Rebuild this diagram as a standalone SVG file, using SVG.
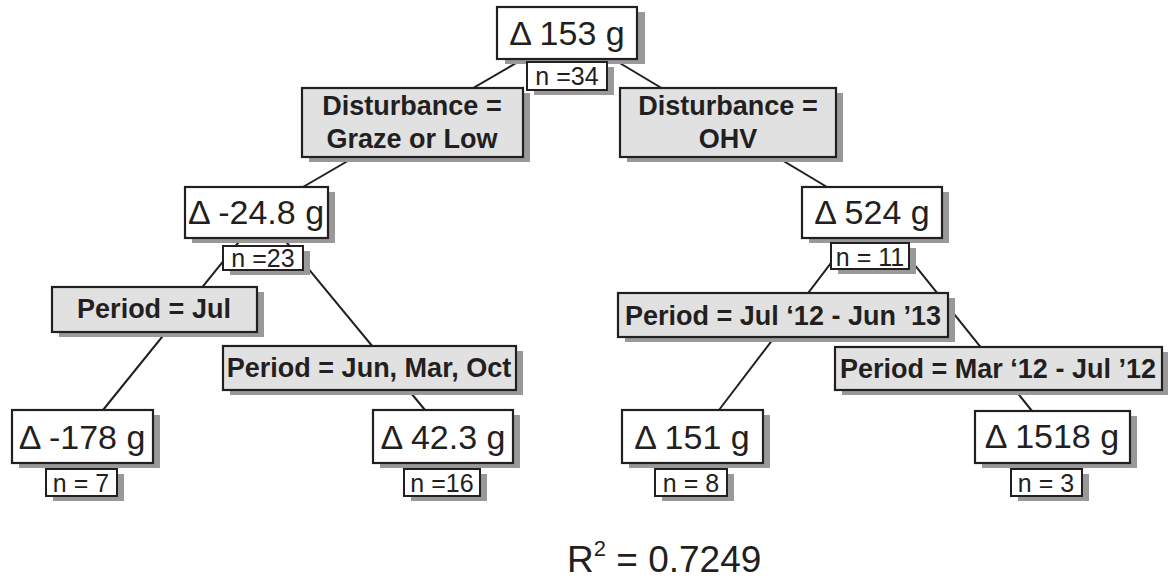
<svg xmlns="http://www.w3.org/2000/svg" width="1168" height="581" viewBox="0 0 1168 581">
<style>
.shadow{fill:#999999;stroke:none}
.node{fill:#ffffff;stroke:#231f20;stroke-width:2.2}
.split{fill:#e1e1e1;stroke:#231f20;stroke-width:2.2}
.nbox{fill:#ffffff;stroke:#231f20;stroke-width:2}
.big{font-family:"Liberation Sans",Arial,sans-serif;font-size:34px;fill:#231f20;text-anchor:middle}
.n{font-family:"Liberation Sans",Arial,sans-serif;font-size:25px;fill:#231f20;text-anchor:middle}
.lab{font-family:"Liberation Sans",Arial,sans-serif;font-size:27px;font-weight:bold;fill:#231f20;text-anchor:middle}
.conn{stroke:#231f20;stroke-width:2;fill:none}
</style>
<rect width="1168" height="581" fill="#ffffff"/>
<g id="connectors">
<line class="conn" x1="523" y1="59" x2="303" y2="187"/>
<line class="conn" x1="613" y1="59" x2="827" y2="187"/>
<line class="conn" x1="242" y1="238" x2="103" y2="410"/>
<line class="conn" x1="283" y1="238" x2="425" y2="410"/>
<line class="conn" x1="850" y1="238" x2="719" y2="410"/>
<line class="conn" x1="893" y1="238" x2="1032" y2="411"/>
</g>
<g id="root">
<rect class="shadow" x="505" y="12" width="140" height="52"/>
<rect class="node" x="497" y="7" width="140" height="52"/>
<text class="big" x="567" y="45">Δ 153 g</text>
<rect class="shadow" x="534" y="67" width="80" height="28"/>
<rect class="nbox" x="527" y="62" width="80" height="28"/>
<text class="n" x="567" y="85">n =34</text>
</g>
<g id="split-left">
<rect class="shadow" x="309" y="93" width="221" height="69"/>
<rect class="split" x="302" y="88" width="221" height="69"/>
<text class="lab" x="412" y="115">Disturbance =</text>
<text class="lab" x="412" y="148">Graze or Low</text>
</g>
<g id="split-right">
<rect class="shadow" x="627" y="93" width="216" height="69"/>
<rect class="split" x="620" y="88" width="216" height="69"/>
<text class="lab" x="728" y="115">Disturbance =</text>
<text class="lab" x="728" y="148">OHV</text>
</g>
<g id="node-m248">
<rect class="shadow" x="192" y="192" width="143" height="51"/>
<rect class="node" x="185" y="187" width="143" height="51"/>
<text class="big" x="256" y="224">Δ -24.8 g</text>
<rect class="shadow" x="230" y="251" width="80" height="24"/>
<rect class="nbox" x="223" y="246" width="80" height="24"/>
<text class="n" x="263" y="267">n =23</text>
</g>
<g id="node-524">
<rect class="shadow" x="809" y="192" width="140" height="51"/>
<rect class="node" x="802" y="187" width="140" height="51"/>
<text class="big" x="872" y="224">Δ 524 g</text>
<rect class="shadow" x="838" y="248" width="78" height="26"/>
<rect class="nbox" x="831" y="243" width="78" height="26"/>
<text class="n" x="870" y="266">n = 11</text>
</g>
<g id="split-jul">
<rect class="shadow" x="59" y="292" width="205" height="45"/>
<rect class="split" x="52" y="287" width="205" height="45"/>
<text class="lab" x="154" y="318">Period = Jul</text>
</g>
<g id="split-junmaroct">
<rect class="shadow" x="230" y="351" width="293" height="44"/>
<rect class="split" x="223" y="346" width="293" height="44"/>
<text class="lab" x="369" y="377">Period = Jun, Mar, Oct</text>
</g>
<g id="split-jul12">
<rect class="shadow" x="625" y="298" width="330" height="44"/>
<rect class="split" x="618" y="293" width="330" height="44"/>
<text class="lab" x="783" y="325">Period = Jul ‘12 - Jun ’13</text>
</g>
<g id="split-mar12">
<rect class="shadow" x="842" y="352" width="327" height="43"/>
<rect class="split" x="835" y="347" width="327" height="43"/>
<text class="lab" x="998" y="378">Period = Mar ‘12 - Jul ’12</text>
</g>
<g id="node-m178">
<rect class="shadow" x="19" y="415" width="141" height="53"/>
<rect class="node" x="12" y="410" width="141" height="53"/>
<text class="big" x="82" y="449">Δ -178 g</text>
<rect class="shadow" x="53" y="474" width="71" height="27"/>
<rect class="nbox" x="46" y="469" width="71" height="27"/>
<text class="n" x="81" y="492">n = 7</text>
</g>
<g id="node-423">
<rect class="shadow" x="380" y="415" width="140" height="53"/>
<rect class="node" x="373" y="410" width="140" height="53"/>
<text class="big" x="443" y="449">Δ 42.3 g</text>
<rect class="shadow" x="411" y="474" width="76" height="27"/>
<rect class="nbox" x="404" y="469" width="76" height="27"/>
<text class="n" x="442" y="492">n =16</text>
</g>
<g id="node-151">
<rect class="shadow" x="629" y="415" width="141" height="53"/>
<rect class="node" x="622" y="410" width="141" height="53"/>
<text class="big" x="692" y="449">Δ 151 g</text>
<rect class="shadow" x="662" y="474" width="72" height="27"/>
<rect class="nbox" x="655" y="469" width="72" height="27"/>
<text class="n" x="691" y="492">n = 8</text>
</g>
<g id="node-1518">
<rect class="shadow" x="982" y="416" width="155" height="52"/>
<rect class="node" x="975" y="411" width="155" height="52"/>
<text class="big" x="1052" y="448">Δ 1518 g</text>
<rect class="shadow" x="1018" y="474" width="71" height="27"/>
<rect class="nbox" x="1011" y="469" width="71" height="27"/>
<text class="n" x="1046" y="492">n = 3</text>
</g>
<g id="r2">
<text x="567" y="572" font-family="'Liberation Sans',Arial,sans-serif" font-size="37" fill="#231f20">R<tspan font-size="22" dy="-16">2</tspan><tspan dy="16"> = 0.7249</tspan></text>
</g>
</svg>
